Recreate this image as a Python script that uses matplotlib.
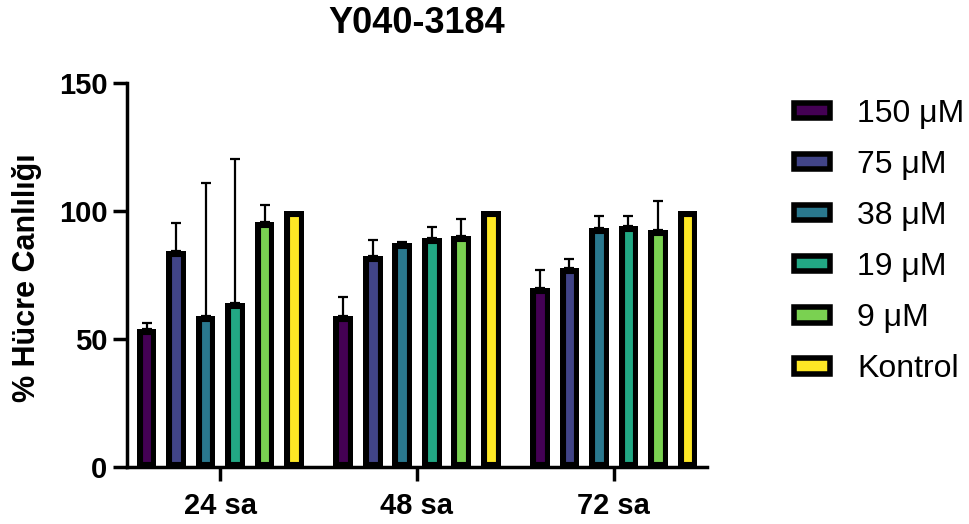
import numpy as np
import matplotlib
matplotlib.use("Agg")
import matplotlib.pyplot as plt
from matplotlib.patches import Patch

plt.rcParams['font.family'] = ['Liberation Sans', 'DejaVu Sans']

groups = ["24 sa", "48 sa", "72 sa"]
series = ["150 μM", "75 μM", "38 μM", "19 μM", "9 μM", "Kontrol"]
colors = ["#440154", "#414487", "#2A788E", "#22A884", "#7AD151", "#FDE725"]

values = {
    "150 μM":  [54.0, 59.0, 70.0],
    "75 μM":   [84.5, 82.5, 77.8],
    "38 μM":   [59.0, 87.5, 93.3],
    "19 μM":   [64.0, 89.3, 94.1],
    "9 μM":    [95.7, 90.2, 92.5],
    "Kontrol": [100.0, 100.0, 100.0],
}
errors = {
    "150 μM":  [2.3, 7.4, 7.0],
    "75 μM":   [11.0, 6.0, 3.4],
    "38 μM":   [52.0, 0.5, 4.9],
    "19 μM":   [56.5, 4.5, 4.0],
    "9 μM":    [6.6, 6.5, 11.5],
    "Kontrol": [0.0, 0.0, 0.0],
}

W, H = 969, 524
fig = plt.figure(figsize=(W / 100, H / 100), dpi=100)
ax = fig.add_axes([127 / W, 1 - 467 / H, (707 - 127) / W, (467 - 83) / H])

x = np.arange(len(groups))
pitch = 0.15
width = 0.10
n = len(series)
handles = []
for i, s in enumerate(series):
    xs = x + (i - (n - 1) / 2) * pitch
    vals = np.array(values[s])
    errs = np.array(errors[s])
    mask = errs > 0
    if mask.any():
        ax.errorbar(xs[mask], vals[mask], yerr=[np.zeros(mask.sum()), errs[mask]],
                    fmt='none', ecolor='black', elinewidth=1.6, capsize=3.6,
                    capthick=1.6, zorder=2)
    bars = ax.bar(xs, vals, width=width, color=colors[i], edgecolor='black',
                  linewidth=8.0, zorder=3)
    for b in bars:
        b.set_clip_path(b)
    handles.append(Patch(facecolor=colors[i], edgecolor='black', linewidth=4.0, label=s))

ax.set_xlim(-0.475, 2.475)
ax.set_ylim(0, 150)
ax.set_yticks([0, 50, 100, 150])
ax.set_xticks(x)
ax.set_xticklabels(groups)

for sp in ['top', 'right']:
    ax.spines[sp].set_visible(False)
for sp in ['left', 'bottom']:
    ax.spines[sp].set_linewidth(2.5)

ax.tick_params(axis='both', direction='out', length=10, width=2.5, labelsize=21)
ax.tick_params(axis='y', pad=4)
ax.tick_params(axis='x', pad=8)
for lab in ax.get_xticklabels() + ax.get_yticklabels():
    lab.set_fontweight('bold')

fig.text(27 / W, 1 - 278 / H, "% Hücre Canlılığı", rotation=90, ha='center', va='center',
         fontsize=22, fontweight='bold')
fig.text(417 / W, 1 - 33 / H, "Y040-3184", ha='center', va='baseline',
         fontsize=26, fontweight='bold')

leg = fig.legend(handles=handles, loc='upper left', bbox_to_anchor=(794 / W, 1 - 99 / H),
                 frameon=False, fontsize=23, handlelength=1.12, handleheight=0.36,
                 handletextpad=0.86, labelspacing=0.66, borderpad=0, borderaxespad=0)

fig.savefig("out.png", dpi=100)
